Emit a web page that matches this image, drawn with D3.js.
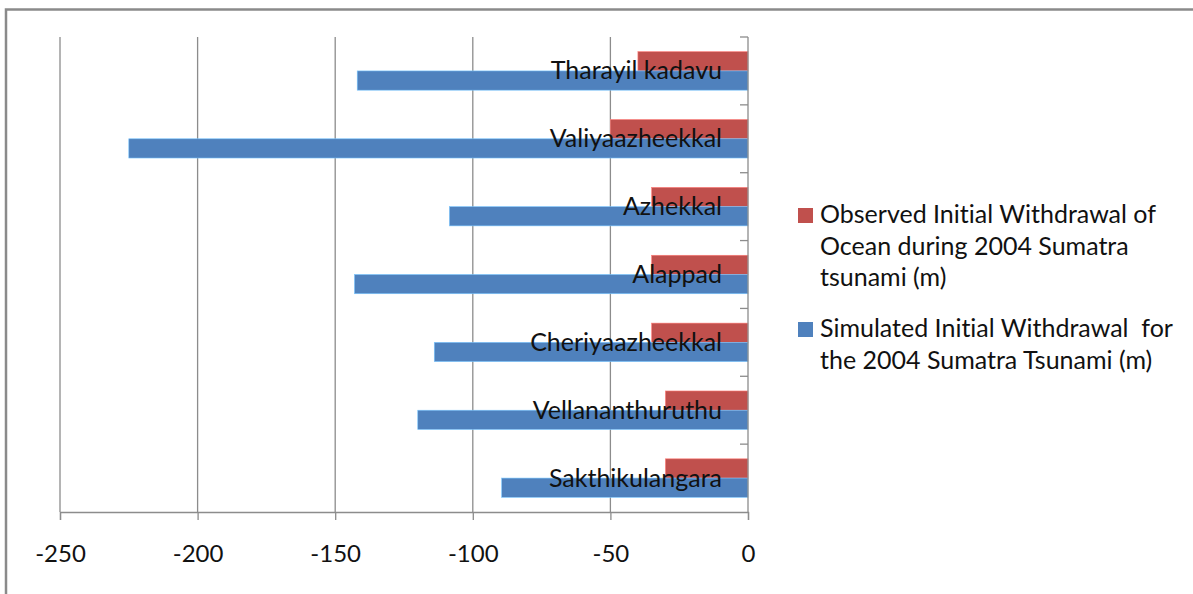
<!DOCTYPE html>
<html>
<head>
<meta charset="utf-8">
<script src="https://cdn.jsdelivr.net/npm/d3@7"></script>
<style>
  html, body { margin: 0; padding: 0; background: #fff; }
  svg { display: block; }
  text { font-family: Lato, "Open Sans", sans-serif; fill: #111; font-variant-ligatures: none; }
</style>
</head>
<body>
<svg id="chart" width="1193" height="594"></svg>
<script>
// Locations, listed top to bottom
const locations = [
  "Tharayil kadavu",
  "Valiyaazheekkal",
  "Azhekkal",
  "Alappad",
  "Cheriyaazheekkal",
  "Vellananthuruthu",
  "Sakthikulangara"
];

// Observed initial withdrawal of the ocean, 2004 Sumatra tsunami (m)
const observed = [-40, -50, -35, -35, -35, -30, -30];

// Simulated initial withdrawal, 2004 Sumatra tsunami (m)
const simulated = [-142, -225, -108.5, -143, -114, -120, -89.5];

const xTicks = [-250, -200, -150, -100, -50, 0];

const seriesNames = ["observed", "simulated"];
const seriesColors = { observed: "#C0504D", simulated: "#4F81BD" };
const legendLines = {
  observed: ["Observed Initial Withdrawal of", "Ocean during 2004 Sumatra", "tsunami (m)"],
  simulated: ["Simulated Initial Withdrawal  for", "the 2004 Sumatra Tsunami (m)"]
};

const rows = locations.map((name, i) => ({
  name,
  observed: observed[i],
  simulated: simulated[i]
}));

const svg = d3.select("#chart");

// Outer chart frame
svg.append("rect")
  .attr("x", 6).attr("y", 9.5)
  .attr("width", 1200).attr("height", 600)
  .attr("fill", "none")
  .attr("stroke", "#8a8a8a")
  .attr("stroke-width", 2.5);

const plot = { left: 60, right: 748, top: 37, bottom: 512 };

const x = d3.scaleLinear().domain([-250, 0]).range([plot.left, plot.right]);
const y = d3.scaleBand().domain(locations).range([plot.top, plot.bottom])
  .paddingInner(0.433).paddingOuter(0.2165);
const ySub = d3.scaleBand().domain(seriesNames).range([0, y.bandwidth()]);

// Vertical gridlines
svg.append("g")
  .selectAll("line")
  .data(xTicks.filter(t => t !== 0))
  .join("line")
  .attr("x1", d => x(d)).attr("x2", d => x(d))
  .attr("y1", plot.top).attr("y2", plot.bottom)
  .attr("stroke", "#8c8c8c")
  .attr("stroke-width", 1.3);

// Bars
const groups = svg.append("g")
  .selectAll("g")
  .data(rows)
  .join("g")
  .attr("transform", d => `translate(0,${y(d.name)})`);

groups.selectAll("rect")
  .data(d => seriesNames.map(s => ({ s, v: d[s] })))
  .join("rect")
  .attr("x", d => x(d.v))
  .attr("y", d => ySub(d.s))
  .attr("width", d => x(0) - x(d.v))
  .attr("height", ySub.bandwidth())
  .attr("fill", d => seriesColors[d.s])
  .attr("stroke", d => d3.color(seriesColors[d.s]).brighter(1.2))
  .attr("stroke-width", 0.6);

// Horizontal value axis
const xAxis = svg.append("g")
  .attr("transform", `translate(0,${plot.bottom})`)
  .call(d3.axisBottom(x).tickValues(xTicks).tickSize(8).tickPadding(25).tickFormat(d => String(d)));
xAxis.select(".domain").attr("stroke", "#8c8c8c").attr("stroke-width", 1.3);
xAxis.selectAll(".tick line").attr("stroke", "#8c8c8c").attr("stroke-width", 1.3);
xAxis.selectAll(".tick text")
  .attr("font-family", "Lato, sans-serif")
  .attr("font-size", 24)
  .attr("fill", "#111");

// Category axis at zero
svg.append("line")
  .attr("x1", x(0)).attr("x2", x(0))
  .attr("y1", plot.top).attr("y2", plot.bottom)
  .attr("stroke", "#8c8c8c").attr("stroke-width", 1.3);

const boundaries = locations.map(d => y(d) - y.step() * y.paddingInner() / 2);
svg.append("g")
  .selectAll("line")
  .data(boundaries)
  .join("line")
  .attr("x1", x(0) - 8).attr("x2", x(0))
  .attr("y1", d => d).attr("y2", d => d)
  .attr("stroke", "#8c8c8c").attr("stroke-width", 1.3);

// Category labels, right-aligned next to the zero axis
svg.append("g")
  .selectAll("text")
  .data(locations)
  .join("text")
  .attr("x", x(0) - 26)
  .attr("y", d => y(d) + y.bandwidth() / 2 + 8.5)
  .attr("text-anchor", "end")
  .attr("font-size", 25)
  .text(d => d);

// Legend
const legendTop = { observed: 223, simulated: 337 };
const legend = svg.append("g");
seriesNames.forEach(s => {
  legend.append("rect")
    .attr("x", 798).attr("y", legendTop[s] - 15)
    .attr("width", 15).attr("height", 15)
    .attr("fill", seriesColors[s]);
  legend.append("text")
    .attr("x", 820)
    .attr("font-size", 25)
    .selectAll("tspan")
    .data(legendLines[s])
    .join("tspan")
    .attr("x", 820)
    .attr("y", (d, i) => legendTop[s] + i * 31.5)
    .attr("xml:space", "preserve")
    .text(d => d);
});
</script>
</body>
</html>
